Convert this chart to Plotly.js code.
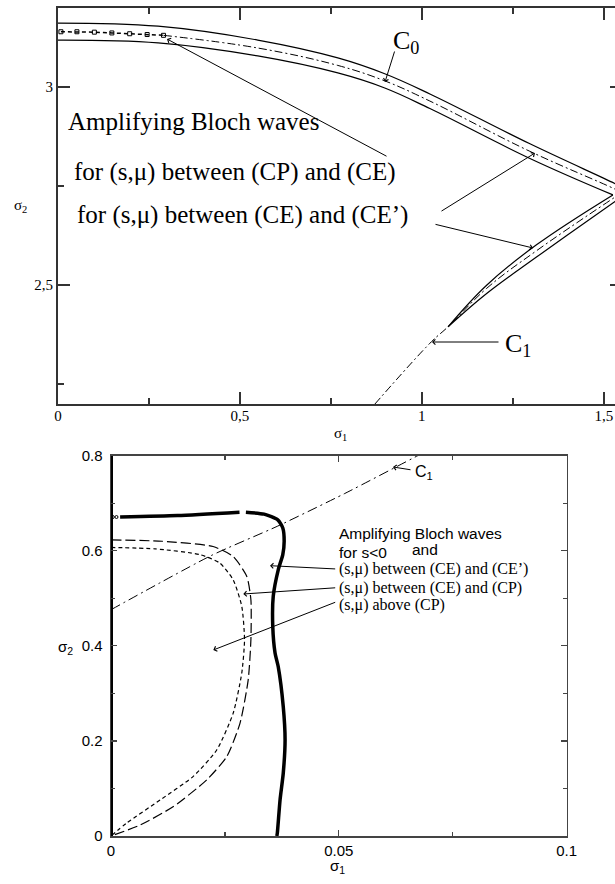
<!DOCTYPE html>
<html><head><meta charset="utf-8">
<script src="https://cdn.plot.ly/plotly-3.0.1.min.js"></script>
<style>html,body{margin:0;padding:0;overflow:hidden;background:#fff;width:615px;height:884px}#chart{width:625px;height:884px}</style>
</head><body><div id="chart"></div>
<script>
// ---------- TOP PANEL DATA ----------
var c0UpperX = [0, 0.275, 0.549, 0.769, 0.898, 1.022, 1.297, 1.53, 1.56];
var c0UpperY = [3.162, 3.154, 3.119, 3.074, 3.034, 2.983, 2.857, 2.757, 2.743];
var c0LowerX = [0, 0.275, 0.549, 0.769, 0.898, 1.022, 1.297, 1.525];
var c0LowerY = [3.119, 3.112, 3.079, 3.036, 2.998, 2.946, 2.820, 2.728];
var c0CenterX = [0.29, 0.549, 0.769, 0.898, 1.022, 1.297, 1.53, 1.56];
var c0CenterY = [3.131, 3.099, 3.055, 3.016, 2.965, 2.838, 2.743, 2.729];
var sqX = [0.008, 0.052, 0.1, 0.148, 0.197, 0.245, 0.29];
var sqY = [3.140, 3.140, 3.139, 3.137, 3.135, 3.133, 3.131];
var c1UpperX = [1.072, 1.178, 1.315, 1.525];
var c1UpperY = [2.395, 2.500, 2.602, 2.728];
var c1LowerX = [1.072, 1.178, 1.315, 1.53, 1.56];
var c1LowerY = [2.395, 2.479, 2.571, 2.711, 2.730];
var c1CenterX = [0.871, 1.026, 1.072, 1.178, 1.315, 1.53, 1.56];
var c1CenterY = [2.2, 2.357, 2.395, 2.492, 2.587, 2.722, 2.740];
var topXTicks = [0, 0.5, 1, 1.5];
var topXLabels = ["0", "0,5", "1", "1,5"];
var topXMinor = [0.25, 0.75, 1.25];
var topYTicks = [2.5, 3];
var topYLabels = ["2,5", "3"];
var topYMinor = [2.25, 2.75];

// ---------- BOTTOM PANEL DATA ----------
var wallX = [0, 0];
var wallY = [0, 0.8];
var ceX = [0.002, 0.0146, 0.0282, null, 0.0296, 0.0336, 0.0366, 0.0377, 0.0380, 0.0377, 0.0367, 0.0356, 0.0355, 0.0360, 0.0367, 0.0378, 0.0382, 0.0378, 0.0371, 0.0365, 0.0364];
var ceY = [0.671, 0.674, 0.681, null, 0.681, 0.677, 0.665, 0.648, 0.620, 0.592, 0.560, 0.504, 0.441, 0.385, 0.356, 0.272, 0.202, 0.132, 0.076, 0.006, 0];
var dotsX = [0.0004, 0.0012];
var dotsY = [0.671, 0.671];
var cpOuterX = [0, 0.0112, 0.0224, 0.0268, 0.0298, 0.0307, 0.0307, 0.0301, 0.0283, 0.0254, 0.021, 0.0137, 0.0064, 0];
var cpOuterY = [0.623, 0.620, 0.609, 0.588, 0.546, 0.497, 0.413, 0.328, 0.237, 0.167, 0.118, 0.062, 0.023, 0];
var cpInnerX = [0, 0.0097, 0.0195, 0.0239, 0.0268, 0.0287, 0.0293, 0.0287, 0.0268, 0.0232, 0.018, 0.0108, 0.0034, 0];
var cpInnerY = [0.607, 0.604, 0.592, 0.574, 0.539, 0.483, 0.413, 0.343, 0.258, 0.181, 0.125, 0.076, 0.027, 0];
var c1bX = [0, 0.022, 0.0366, 0.0512, 0.0673, 0.07];
var c1bY = [0.476, 0.590, 0.652, 0.720, 0.80, 0.813];
var botXTicks = [0, 0.05, 0.1];
var botXLabels = ["0", "0.05", "0.1"];
var botXMinor = [0.025, 0.075];
var botYTicks = [0, 0.2, 0.4, 0.6, 0.8];
var botYLabels = ["0", "0.2", "0.4", "0.6", "0.8"];
var botYMinor = [0.1, 0.3, 0.5, 0.7];

var W = 625, H = 884;
var SERIF = "Liberation Serif, Times New Roman, serif";
var SANS = "Liberation Sans, Arial, sans-serif";
var K = '#000';

function ln(x, y, ax, dash, w, sm, extra) {
  var t = {x: x, y: y, type: 'scatter', mode: 'lines', xaxis: ax[0], yaxis: ax[1],
    line: {color: K, width: w, dash: dash, shape: 'spline', smoothing: sm}, hoverinfo: 'skip', showlegend: false};
  if (extra) for (var k in extra) t[k] = extra[k];
  return t;
}
var A1 = ['x', 'y'], A2 = ['x2', 'y2'];
var data = [
  ln(c0UpperX, c0UpperY, A1, 'solid', 1.2, 1.1),
  ln(c0LowerX, c0LowerY, A1, 'solid', 1.2, 1.1),
  ln(c0CenterX, c0CenterY, A1, '8px,3px,2px,3px', 1, 1.1),
  {x: sqX, y: sqY, type: 'scatter', mode: 'lines+markers', xaxis: 'x', yaxis: 'y',
    line: {color: K, width: 1.5, dash: '4px,3px'}, marker: {symbol: 'square-open', size: 4, color: K, line: {width: 1, color: K}},
    hoverinfo: 'skip', showlegend: false},
  ln(c1UpperX, c1UpperY, A1, 'solid', 1.2, 1.1),
  ln(c1LowerX, c1LowerY, A1, 'solid', 1.2, 1.1),
  ln(c1CenterX, c1CenterY, A1, '8px,3px,2px,3px', 1, 1.1),

  ln(wallX, wallY, A2, 'solid', 4, 0, {cliponaxis: false}),
  ln(ceX, ceY, A2, 'solid', 3.5, 0.6, {connectgaps: false}),
  {x: dotsX, y: dotsY, type: 'scatter', mode: 'markers', xaxis: 'x2', yaxis: 'y2',
    marker: {symbol: 'circle-open', size: 3, color: K, line: {width: 1, color: K}}, hoverinfo: 'skip', showlegend: false},
  ln(cpOuterX, cpOuterY, A2, '10px,4px', 1.2, 0.6),
  ln(cpInnerX, cpInnerY, A2, '4px,3px', 1.2, 0.6),
  ln(c1bX, c1bY, A2, '10px,4px,2px,4px', 1, 0.6)
];

function txt(px, py, text, font, anchor) {
  return {xref: 'paper', yref: 'paper', x: px / W, y: 1 - py / H, text: text, showarrow: false,
    xanchor: anchor || 'left', yanchor: 'middle', font: font};
}
function arr(tipx, tipy, tailx, taily) {
  return {xref: 'paper', yref: 'paper', x: tipx / W, y: 1 - tipy / H, ax: tailx - tipx, ay: taily - tipy,
    text: '', showarrow: true, arrowhead: 4, arrowsize: 1, arrowwidth: 1, arrowcolor: K, standoff: 0, startstandoff: 0};
}
var fTop = {family: SERIF, size: 25, color: K};
var fBotSans = {family: SANS, size: 15.5, color: K};
var fBotSerif = {family: SERIF, size: 16, color: K};

var annotations = [
  txt(66, 122, 'Amplifying Bloch waves', fTop),
  txt(72, 172, 'for (s,\u03bc) between (CP) and (CE)', fTop),
  txt(75, 215, 'for (s,\u03bc) between (CE) and (CE\u2019)', fTop),
  txt(391, 42, 'C<sub>0</sub>', {family: SERIF, size: 26, color: K}),
  txt(503, 345, 'C<sub>1</sub>', {family: SERIF, size: 26, color: K}),
  arr(167, 39, 388, 157),
  arr(535, 153, 440, 212),
  arr(533, 248, 434, 224),
  arr(385, 82, 395, 50),
  arr(432, 342, 500, 342),
  txt(20, 206, '\u03c3<sub>2</sub>', {family: SERIF, size: 15, color: K}, 'center'),
  txt(340, 434, '\u03c3<sub>1</sub>', {family: SERIF, size: 15, color: K}, 'center'),

  txt(337, 533, 'Amplifying Bloch waves', fBotSans),
  txt(337, 552, 'for s&lt;0', fBotSans),
  txt(410, 549, 'and', fBotSans),
  txt(337, 569, '(s,\u03bc) between (CE) and (CE\u2019)', fBotSerif),
  txt(337, 587.7, '(s,\u03bc) between (CE) and (CP)', fBotSerif),
  txt(337, 605, '(s,\u03bc) above (CP)', fBotSerif),
  txt(413, 472, 'C<sub>1</sub>', {family: SANS, size: 16, color: K}),
  arr(270, 565.7, 336.7, 569),
  arr(243.3, 594, 336.7, 587.7),
  arr(213.3, 650, 336.7, 601.7),
  arr(393, 467, 412, 470),
  txt(65, 647, '\u03c3<sub>2</sub>', {family: SANS, size: 15, color: K}, 'center'),
  txt(338, 866, '\u03c3<sub>1</sub>', {family: SANS, size: 15, color: K}, 'center')
];

function axisTop(range, dom, tv, tt, minor, anchor, standoff) {
  return {range: range, domain: dom, anchor: anchor, showline: true, linecolor: '#333', linewidth: 2, mirror: 'ticks',
    ticks: 'inside', ticklen: 12, tickwidth: 1.5, tickcolor: '#333', tickmode: 'array', tickvals: tv, ticktext: tt,
    minor: {tickvals: minor, ticklen: 6, tickwidth: 1.5, tickcolor: '#333', ticks: 'inside', showgrid: false},
    ticklabelstandoff: standoff || 0,
    showgrid: false, zeroline: false, fixedrange: true, tickfont: {family: SERIF, size: 15, color: K}};
}
function axisBot(range, dom, tv, tt, minor, anchor, standoff) {
  return {range: range, domain: dom, anchor: anchor, showline: true, linecolor: '#444', linewidth: 1.5, mirror: 'ticks',
    ticks: 'inside', ticklen: 6, tickwidth: 1.2, tickcolor: '#444', tickmode: 'array', tickvals: tv, ticktext: tt,
    minor: {tickvals: minor, ticklen: 4, tickwidth: 1.2, tickcolor: '#444', ticks: 'inside', showgrid: false},
    ticklabelstandoff: standoff || 0,
    showgrid: false, zeroline: false, fixedrange: true, tickfont: {family: SANS, size: 15, color: K}};
}

var layout = {
  width: W, height: H, margin: {l: 0, r: 0, t: 0, b: 0}, paper_bgcolor: '#fff', plot_bgcolor: '#fff',
  showlegend: false,
  xaxis: axisTop([0, 1.55], [58 / W, 622 / W], topXTicks, topXLabels, topXMinor, 'y', -3),
  yaxis: axisTop([2.2, 3.2], [1 - 404 / H, 1 - 8 / H], topYTicks, topYLabels, topYMinor, 'x', 0),
  xaxis2: axisBot([0, 0.1], [111 / W, 566.7 / W], botXTicks, botXLabels, botXMinor, 'y2', 0),
  yaxis2: axisBot([0, 0.8], [1 - 836 / H, 1 - 455.7 / H], botYTicks, botYLabels, botYMinor, 'x2', 4),
  annotations: annotations
};
Plotly.newPlot('chart', data, layout, {staticPlot: true, displayModeBar: false});
</script></body></html>
